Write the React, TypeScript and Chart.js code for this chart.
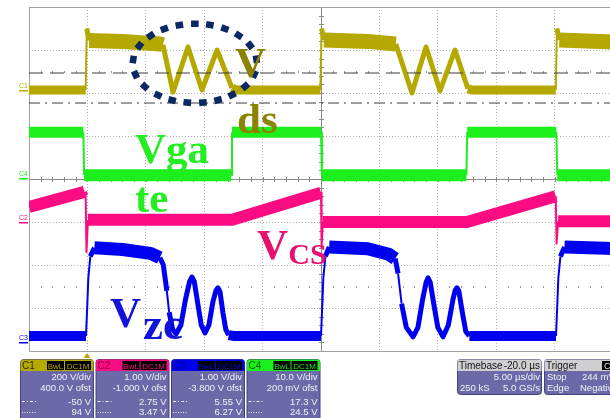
import React, { useEffect, useRef } from "react";
import { Chart, registerables } from "chart.js";

Chart.register(...registerables);

// ---- screen / axis setup: time in µs across the screen (5 µs/div, 10 div), vertical in divisions (0..8)
const TIME_MIN = 0;
const TIME_MAX = 50;
const TIME_STEP = 5;
const DIV_MIN = 0;
const DIV_MAX = 8;

// ---- traces: [time µs, screen divisions]
const VDS_C1: [number, number][] = [
  [0, 6.07], [4.85, 6.07], [4.95, 7.5], [5.15, 7.22], [8.0, 7.2], [11.2, 7.14],
  [11.47, 7.12], [12.33, 6.02], [13.61, 7.07], [14.81, 6.07], [16.1, 7.0], [17.38, 6.12], [17.7, 6.07],
  [24.95, 6.07], [25.05, 7.5], [25.25, 7.23], [29.0, 7.2], [31.4, 7.14],
  [32.79, 6.0], [33.99, 7.07], [35.19, 6.05], [36.47, 7.0], [37.58, 6.1], [37.9, 6.07],
  [45.1, 6.07], [45.2, 7.5], [45.4, 7.23], [50.6, 7.18],
];

const VGATE_C4: [number, number][] = [
  [0, 5.09], [4.65, 5.09], [4.72, 4.09], [17.3, 4.09], [17.38, 5.09], [25.0, 5.09],
  [25.08, 4.09], [37.45, 4.09], [37.52, 5.09], [45.15, 5.09], [45.23, 4.09], [50.6, 4.09],
];

const VCS_C2: [number, number][] = [
  [0, 3.35], [4.75, 3.7], [4.85, 3.62], [4.92, 2.3], [5.05, 3.05], [17.4, 3.05], [25.0, 3.68],
  [25.05, 2.4], [25.15, 3.0], [37.5, 3.0], [45.1, 3.6], [45.17, 2.5], [45.3, 3.02], [50.6, 3.02],
];

const VZC_C3: [number, number][] = [
  [0, 0.35], [4.88, 0.35], [4.98, 1.0], [5.08, 1.7], [5.25, 2.2], [5.6, 2.4], [8.0, 2.36], [10.4, 2.27], [11.2, 2.17],
  [11.5, 2.0], [11.8, 1.4], [12.0, 0.9], [12.3, 0.5], [12.6, 0.4], [13.0, 0.6], [13.4, 1.2], [13.75, 1.62],
  [13.95, 1.72], [14.15, 1.62], [14.45, 1.1], [14.75, 0.6], [15.07, 0.42], [15.4, 0.6], [15.75, 1.15],
  [16.0, 1.4], [16.18, 1.47], [16.35, 1.38], [16.6, 0.9], [16.85, 0.5], [17.1, 0.37], [17.5, 0.35],
  [25.0, 0.35], [25.1, 1.0], [25.2, 1.7], [25.38, 2.2], [25.7, 2.42], [29.0, 2.38], [30.8, 2.25], [31.35, 2.15],
  [31.6, 1.8], [31.9, 1.1], [32.3, 0.55], [32.88, 0.33], [33.3, 0.55], [33.7, 1.2], [34.0, 1.6], [34.16, 1.7],
  [34.35, 1.6], [34.65, 1.1], [35.0, 0.55], [35.45, 0.33], [35.9, 0.6], [36.3, 1.2], [36.5, 1.42], [36.64, 1.47],
  [36.8, 1.4], [37.1, 0.9], [37.4, 0.45], [37.7, 0.35],
  [45.12, 0.35], [45.22, 1.0], [45.32, 1.7], [45.5, 2.2], [45.85, 2.42], [50.6, 2.38],
];

// C1 cursors (divisions)
const CURSOR_DASH = 6.465;
const CURSOR_DASHDOT = 5.767;

// channel ground markers (divisions)
const GROUND_LEVELS: [string, number][] = [["C1", 6.1], ["C4", 4.05], ["C2", 3.02], ["C3", 0.23]];

// info panel text
const CH_IDS = ["C1", "C2", "C3", "C4"];
const CH_SCALE = ["200 V/div", "1.00 V/div", "1.00 V/div", "10.0 V/div"];
const CH_OFFSET = ["400.0 V ofst", "-1.000 V ofst", "-3.800 V ofst", "200 mV ofst"];
const CH_CURSOR_A = ["-50 V", "2.75 V", "5.55 V", "17.3 V"];
const CH_CURSOR_B = ["94 V", "3.47 V", "6.27 V", "24.5 V"];
const TIMEBASE = ["Timebase", "-20.0 µs", "5.00 µs/div", "250 kS", "5.0 GS/s"];
const TRIGGER = ["Trigger", "C4", "Stop", "244 mV", "Edge", "Negative"];

const COL_Y = "#b5a800";
const COL_G = "#1cf01c";
const COL_P = "#fc0c82";
const COL_B = "#0000f0";
const CH_COLORS = [COL_Y, COL_P, COL_B, COL_G];
const CH_DARK = ["#2e2a00", "#8a0040", "#000070", "#005a00"];

const toXY = (a: [number, number][]) => a.map(([x, y]) => ({ x, y }));

function traceWidth(highLevel: number, highW: number, lowW: number) {
  return (ctx: any) => {
    const p0 = ctx.p0, p1 = ctx.p1;
    const dx = Math.abs(p1.x - p0.x) || 0.01;
    const ratio = Math.abs(p1.y - p0.y) / dx;
    if (ratio > 8) return 2;
    if (ratio > 0.8) return 5;
    const y0 = p0.parsed ? p0.parsed.y : 0;
    const y1 = p1.parsed ? p1.parsed.y : 0;
    return (y0 + y1) / 2 > highLevel ? highW : lowW;
  };
}

function rrect(ctx: CanvasRenderingContext2D, x: number, y: number, w: number, h: number, r: number) {
  ctx.beginPath();
  ctx.moveTo(x + r, y);
  ctx.lineTo(x + w - r, y);
  ctx.quadraticCurveTo(x + w, y, x + w, y + r);
  ctx.lineTo(x + w, y + h - r);
  ctx.quadraticCurveTo(x + w, y + h, x + w - r, y + h);
  ctx.lineTo(x + r, y + h);
  ctx.quadraticCurveTo(x, y + h, x, y + h - r);
  ctx.lineTo(x, y + r);
  ctx.quadraticCurveTo(x, y, x + r, y);
  ctx.closePath();
}

const overlay = {
  id: "scopeOverlay",
  beforeDatasetsDraw(chart: any) {
    const { ctx, chartArea: a, scales } = chart;
    const xs = scales.x, ys = scales.y;
    ctx.save();
    ctx.fillStyle = "#9a9a9a";
    for (const d of [6.5, 1.5]) {
      const py = Math.round(ys.getPixelForValue(d));
      for (let t = 1; t < TIME_MAX; t++) {
        if (t % 5 === 0) continue;
        const px = Math.round(xs.getPixelForValue(t));
        ctx.fillRect(px, py - 1, 1, 2);
      }
    }
    const cx = Math.round(xs.getPixelForValue(25)) + 0.5;
    const cy = Math.round(ys.getPixelForValue(4)) + 0.5;
    ctx.strokeStyle = "#8a8a8a";
    ctx.lineWidth = 1;
    ctx.beginPath();
    ctx.moveTo(a.left, cy); ctx.lineTo(a.right, cy);
    ctx.moveTo(cx, a.top); ctx.lineTo(cx, a.bottom);
    for (let t = 1; t < TIME_MAX; t++) {
      const px = Math.round(xs.getPixelForValue(t)) + 0.5;
      ctx.moveTo(px, cy - 2.5); ctx.lineTo(px, cy + 2.5);
    }
    for (let d = 0.2; d < DIV_MAX; d += 0.2) {
      const py = Math.round(ys.getPixelForValue(d)) + 0.5;
      ctx.moveTo(cx - 2.5, py); ctx.lineTo(cx + 2.5, py);
    }
    ctx.stroke();
    ctx.strokeStyle = "#a0a0a0";
    ctx.beginPath();
    ctx.moveTo(a.left + 0.5, a.top); ctx.lineTo(a.left + 0.5, a.bottom + 1);
    ctx.moveTo(a.left, a.top + 0.5); ctx.lineTo(a.right, a.top + 0.5);
    ctx.moveTo(a.left, a.bottom + 0.5); ctx.lineTo(a.right, a.bottom + 0.5);
    ctx.stroke();
    ctx.restore();
  },
  afterDatasetsDraw(chart: any) {
    const { ctx, scales } = chart;
    const xs = scales.x, ys = scales.y;
    ctx.save();
    const ecx = xs.getPixelForValue(14.2), ecy = ys.getPixelForValue(6.69);
    const erx = xs.getPixelForValue(14.2 + 5.3) - ecx;
    const ery = ecy - ys.getPixelForValue(6.69 + 0.92);
    const S = 720;
    const pts: [number, number][] = [];
    const cum: number[] = [0];
    for (let i = 0; i <= S; i++) {
      const th = -Math.PI / 2 + (i / S) * Math.PI * 2;
      pts.push([ecx + erx * Math.cos(th), ecy + ery * Math.sin(th)]);
      if (i > 0) cum.push(cum[i - 1] + Math.hypot(pts[i][0] - pts[i - 1][0], pts[i][1] - pts[i - 1][1]));
    }
    const L = cum[S];
    const N = 21;
    ctx.fillStyle = "#0b2864";
    let j = 0;
    for (let k = 0; k < N; k++) {
      const target = (k / N) * L;
      while (j < S && cum[j + 1] < target) j++;
      const p = pts[j], q = pts[Math.min(j + 1, S)];
      const ang = Math.atan2(q[1] - p[1], q[0] - p[0]);
      ctx.save();
      ctx.translate(p[0], p[1]);
      ctx.rotate(ang);
      ctx.fillRect(-3.8, -3.3, 7.6, 6.6);
      ctx.restore();
    }
    const serif = '"Liberation Serif", "Times New Roman", serif';
    const labels: [string, number, number, number, string][] = [
      ["V", 17.64, 6.37, 43, "#8b8200"],
      ["ds", 17.81, 5.07, 43, "#8b8200"],
      ["Vga", 9.08, 4.37, 43, "#22ee22"],
      ["te", 9.08, 3.23, 43, "#22ee22"],
      ["V", 19.52, 2.14, 43, "#e8106e"],
      ["CS", 22.2, 2.02, 30, "#e8106e"],
      ["V", 6.94, 0.56, 43, "#1212d8"],
      ["zc", 9.76, 0.28, 45, "#1212d8"],
    ];
    ctx.textBaseline = "alphabetic";
    ctx.textAlign = "left";
    for (const [txt, t, d, size, col] of labels) {
      ctx.font = `bold ${size}px ${serif}`;
      ctx.fillStyle = col;
      ctx.fillText(txt, xs.getPixelForValue(t), ys.getPixelForValue(d));
    }
    ctx.restore();
  },
  afterDraw(chart: any) {
    const { ctx, chartArea: a, scales } = chart;
    const xs = scales.x, ys = scales.y;
    const sans = '"Liberation Sans", Arial, sans-serif';
    ctx.save();
    const gcols: Record<string, string> = { C1: COL_Y, C2: COL_P, C3: COL_B, C4: COL_G };
    ctx.font = `7px ${sans}`;
    ctx.textAlign = "left";
    ctx.textBaseline = "alphabetic";
    for (const [id, d] of GROUND_LEVELS) {
      const py = Math.round(ys.getPixelForValue(d));
      ctx.fillStyle = gcols[id];
      ctx.fillText(id, a.left - 10, py - 1);
      ctx.fillRect(a.left - 10, py + 1, 9, 1.5);
    }
    const tx = xs.getPixelForValue(4.97);
    ctx.fillStyle = COL_Y;
    ctx.beginPath();
    ctx.moveTo(tx, a.bottom + 2); ctx.lineTo(tx + 3.5, a.bottom + 7); ctx.lineTo(tx - 3.5, a.bottom + 7);
    ctx.closePath(); ctx.fill();

    const BODY = "#6c69a8", EDGE = "#45437e", TXT = "#f2f2f6";
    for (let i = 0; i < 4; i++) {
      const bx = 20 + i * 75.5, by = 359, w = 73;
      rrect(ctx, bx + 0.5, by + 0.5, w, 70, 3);
      ctx.fillStyle = BODY; ctx.fill();
      ctx.strokeStyle = EDGE; ctx.lineWidth = 1; ctx.stroke();
      ctx.save();
      rrect(ctx, bx + 0.5, by + 0.5, w, 70, 3);
      ctx.clip();
      ctx.fillStyle = CH_COLORS[i];
      ctx.fillRect(bx, by, w + 1, 12);
      ctx.restore();
      ctx.fillStyle = CH_DARK[i];
      ctx.font = `10px ${sans}`;
      ctx.textAlign = "left";
      ctx.fillText(CH_IDS[i], bx + 2, by + 10);
      ctx.fillStyle = "#000";
      ctx.fillRect(bx + 27, by + 2, 17, 9);
      ctx.fillRect(bx + 45, by + 2, 26, 9);
      ctx.fillStyle = CH_COLORS[i];
      ctx.font = `8px ${sans}`;
      ctx.textAlign = "center";
      ctx.fillText("BwL", bx + 35.5, by + 9.5);
      ctx.fillText("DC1M", bx + 58, by + 9.5);
      ctx.fillStyle = TXT;
      ctx.font = `9.5px ${sans}`;
      ctx.textAlign = "right";
      ctx.fillText(CH_SCALE[i], bx + 71, 380);
      ctx.fillText(CH_OFFSET[i], bx + 71, 391);
      ctx.fillText(CH_CURSOR_A[i], bx + 71, 405);
      ctx.fillText(CH_CURSOR_B[i], bx + 71, 415);
      ctx.strokeStyle = TXT;
      ctx.lineWidth = 1;
      ctx.setLineDash([3, 2, 1, 2]);
      ctx.beginPath(); ctx.moveTo(bx + 2, 401.5); ctx.lineTo(bx + 16, 401.5); ctx.stroke();
      ctx.setLineDash([1, 1.5]);
      ctx.beginPath(); ctx.moveTo(bx + 2, 412.5); ctx.lineTo(bx + 16, 412.5); ctx.stroke();
      ctx.setLineDash([]);
    }
    {
      const bx = 457, by = 359, w = 84, h = 35;
      rrect(ctx, bx + 0.5, by + 0.5, w, h, 3);
      ctx.fillStyle = BODY; ctx.fill();
      ctx.strokeStyle = EDGE; ctx.stroke();
      ctx.save(); rrect(ctx, bx + 0.5, by + 0.5, w, h, 3); ctx.clip();
      ctx.fillStyle = "#cfcfd2"; ctx.fillRect(bx, by, w + 1, 12); ctx.restore();
      ctx.fillStyle = "#151515";
      ctx.font = `10px ${sans}`;
      ctx.textAlign = "left"; ctx.fillText(TIMEBASE[0], bx + 2, by + 10);
      ctx.textAlign = "right"; ctx.fillText(TIMEBASE[1], bx + w - 1, by + 10);
      ctx.fillStyle = TXT;
      ctx.font = `9.5px ${sans}`;
      ctx.fillText(TIMEBASE[2], bx + w - 1, 380);
      ctx.fillText(TIMEBASE[4], bx + w - 1, 391);
      ctx.textAlign = "left"; ctx.fillText(TIMEBASE[3], bx + 3, 391);
    }
    {
      const bx = 544, by = 359, w = 90, h = 35;
      rrect(ctx, bx + 0.5, by + 0.5, w, h, 3);
      ctx.fillStyle = BODY; ctx.fill();
      ctx.strokeStyle = EDGE; ctx.stroke();
      ctx.save(); rrect(ctx, bx + 0.5, by + 0.5, w, h, 3); ctx.clip();
      ctx.fillStyle = "#cfcfd2"; ctx.fillRect(bx, by, w + 1, 12); ctx.restore();
      ctx.fillStyle = "#151515";
      ctx.font = `10px ${sans}`;
      ctx.textAlign = "left"; ctx.fillText(TRIGGER[0], bx + 2, by + 10);
      ctx.fillStyle = "#000"; ctx.fillRect(bx + 58, by + 2, 18, 9);
      ctx.fillStyle = "#e8e8e8"; ctx.font = `9px ${sans}`; ctx.fillText(TRIGGER[1], bx + 60, by + 10);
      ctx.fillStyle = TXT;
      ctx.font = `9.5px ${sans}`;
      ctx.fillText(TRIGGER[2], bx + 3, 380);
      ctx.fillText(TRIGGER[3], bx + 38, 380);
      ctx.fillText(TRIGGER[4], bx + 3, 391);
      ctx.fillText(TRIGGER[5], bx + 36, 391);
    }
    ctx.restore();
  },
};

export default function App() {
  const ref = useRef<HTMLCanvasElement>(null);
  useEffect(() => {
    const canvas = ref.current;
    if (!canvas) return;
    const common = {
      pointRadius: 0,
      pointHoverRadius: 0,
      fill: false,
      tension: 0,
      borderJoinStyle: "round" as const,
    };
    const chart = new Chart(canvas, {
      type: "line",
      data: {
        datasets: [
          {
            label: "cursor 1",
            data: toXY([[TIME_MIN, CURSOR_DASH], [TIME_MAX + 1, CURSOR_DASH]]),
            borderColor: "#3c3c3c", borderWidth: 1, borderDash: [14, 7], pointRadius: 0, fill: false,
          },
          {
            label: "cursor 2",
            data: toXY([[TIME_MIN, CURSOR_DASHDOT], [TIME_MAX + 1, CURSOR_DASHDOT]]),
            borderColor: "#3c3c3c", borderWidth: 1, borderDash: [11, 5, 2, 5], pointRadius: 0, fill: false,
          },
          {
            label: "Vds (C1)", data: toXY(VDS_C1), borderColor: COL_Y, borderWidth: 10,
            segment: { borderWidth: traceWidth(6.6, 15, 9) }, ...common,
          },
          {
            label: "Vgate (C4)", data: toXY(VGATE_C4), borderColor: COL_G, borderWidth: 11,
            segment: { borderWidth: traceWidth(4.6, 11, 12) }, ...common,
          },
          {
            label: "Vcs (C2)", data: toXY(VCS_C2), borderColor: COL_P, borderWidth: 12,
            segment: { borderWidth: traceWidth(10, 12, 12) }, ...common,
          },
          {
            label: "Vzc (C3)", data: toXY(VZC_C3), borderColor: COL_B, borderWidth: 12,
            segment: { borderWidth: traceWidth(1.5, 13, 10) }, ...common,
          },
        ],
      },
      options: {
        animation: false,
        responsive: false,
        devicePixelRatio: 1,
        events: [],
        layout: { padding: { left: 29, top: 7, right: 7, bottom: 67 } },
        plugins: { legend: { display: false }, tooltip: { enabled: false }, title: { display: false } },
        scales: {
          x: {
            type: "linear", min: TIME_MIN, max: TIME_MAX,
            ticks: { display: false, stepSize: TIME_STEP },
            grid: { color: "#b2b2b2", lineWidth: 1, drawTicks: false },
            border: { display: false, dash: [1, 2] },
          },
          y: {
            type: "linear", min: DIV_MIN, max: DIV_MAX,
            ticks: { display: false, stepSize: 1 },
            grid: { color: "#b2b2b2", lineWidth: 1, drawTicks: false },
            border: { display: false, dash: [1, 2] },
          },
        },
      },
      plugins: [overlay],
    });
    return () => chart.destroy();
  }, []);
  return (
    <div style={{ position: "absolute", left: 0, top: 0, width: 610, height: 418, overflow: "hidden", background: "#fff" }}>
      <canvas ref={ref} width={620} height={418} style={{ display: "block", width: 620, height: 418 }} />
    </div>
  );
}
